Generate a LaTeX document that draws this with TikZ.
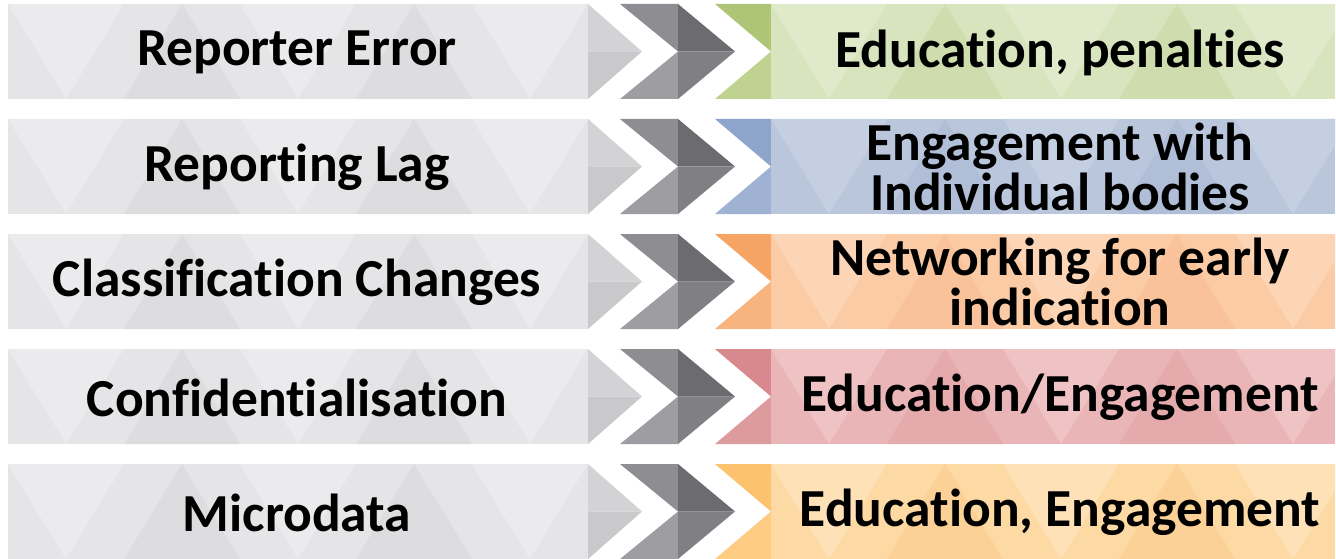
\documentclass[tikz,border=0pt]{standalone}
\usepackage{fontspec}
\setmainfont{Carlito}[Ligatures=NoCommon]
\definecolor{gbase}{HTML}{E5E5E7}
\definecolor{glight}{HTML}{EBEBED}
\definecolor{gdark}{HTML}{DDDDDF}
\definecolor{gtipA}{HTML}{D3D3D5}
\definecolor{gtipB}{HTML}{C9C9CB}
\definecolor{chTL}{HTML}{8E8E92}
\definecolor{chTR}{HTML}{6B6B70}
\definecolor{chBL}{HTML}{9E9EA2}
\definecolor{chBR}{HTML}{7F7F84}
% green
\definecolor{grA}{HTML}{AEC577}
\definecolor{grB}{HTML}{C0D28F}
\definecolor{grBase}{HTML}{D8E4BE}
\definecolor{grL}{HTML}{E0E9CA}
\definecolor{grD}{HTML}{CEDCAE}
% blue
\definecolor{blA}{HTML}{8DA4CB}
\definecolor{blB}{HTML}{9FB2D4}
\definecolor{blBase}{HTML}{BAC6DC}
\definecolor{blL}{HTML}{C5CFE2}
\definecolor{blD}{HTML}{B1BED7}
% orange
\definecolor{orA}{HTML}{F6A464}
\definecolor{orB}{HTML}{F8B47E}
\definecolor{orBase}{HTML}{FACBA4}
\definecolor{orL}{HTML}{FBD5B5}
\definecolor{orD}{HTML}{F9C29A}
% red
\definecolor{rdA}{HTML}{D8898D}
\definecolor{rdB}{HTML}{DE9B9D}
\definecolor{rdBase}{HTML}{EAB5B7}
\definecolor{rdL}{HTML}{EFC2C3}
\definecolor{rdD}{HTML}{E5AAAC}
% yellow
\definecolor{ylA}{HTML}{FCC26E}
\definecolor{ylB}{HTML}{FDCB82}
\definecolor{ylBase}{HTML}{FDD9A3}
\definecolor{ylL}{HTML}{FEE1B6}
\definecolor{ylD}{HTML}{FCD197}
\newcommand\rowdraw[6]{%
  \pgfmathsetmacro\rT{#1}%
  \pgfmathsetmacro\rB{#1+95}%
  \pgfmathsetmacro\rM{#1+47.5}%
  % left grey bar, faceted columns
  \foreach \i in {0,...,4}{%
    \pgfmathsetmacro\xa{8+116*\i}%
    \pgfmathsetmacro\xb{\xa+116}%
    \pgfmathsetmacro\xc{\xa+58}%
    \fill[gbase] (\xa,\rT) rectangle (\xb,\rB);
    \ifodd\i
      \fill[gdark] (\xa,\rB) -- (\xb,\rB) -- (\xc,\rT) -- cycle;
    \else
      \fill[glight] (\xa,\rT) -- (\xb,\rT) -- (\xc,\rB) -- cycle;
    \fi
  }%
  \fill[gtipA] (588,\rT) -- (642,\rM) -- (588,\rM) -- cycle;
  \fill[gtipB] (588,\rB) -- (642,\rM) -- (588,\rM) -- cycle;
  % dark chevron
  \fill[chTL] (620,\rT) -- (678,\rT) -- (678,\rM) -- cycle;
  \fill[chTR] (678,\rT) -- (735,\rM) -- (678,\rM) -- cycle;
  \fill[chBL] (620,\rB) -- (678,\rB) -- (678,\rM) -- cycle;
  \fill[chBR] (678,\rB) -- (735,\rM) -- (678,\rM) -- cycle;
  % coloured bar
  \fill[#2] (715,\rT) -- (771,\rT) -- (771,\rM) -- cycle;
  \fill[#3] (715,\rB) -- (771,\rB) -- (771,\rM) -- cycle;
  \foreach \i in {0,...,4}{%
    \pgfmathsetmacro\xa{771+116*\i}%
    \pgfmathsetmacro\xb{min(\xa+116,1335)}%
    \pgfmathsetmacro\xc{\xa+58}%
    \fill[#4] (\xa,\rT) rectangle (\xb,\rB);
    \begin{scope}
      \clip (\xa,\rT) rectangle (\xb,\rB);
      \ifodd\i
        \fill[#6] (\xa,\rB) -- (\xa+116,\rB) -- (\xc,\rT) -- cycle;
      \else
        \fill[#5] (\xa,\rT) -- (\xa+116,\rT) -- (\xc,\rB) -- cycle;
      \fi
    \end{scope}
  }%
}
\begin{document}
\begin{tikzpicture}[x=1pt,y=-1pt,
  lbl/.style={font=\bfseries\fontsize{53.5}{50}\selectfont, text=black, align=center, inner sep=0pt}]
\useasboundingbox (0,0) rectangle (1336,559);
\fill[white] (0,0) rectangle (1336,559);
\rowdraw{4}{grA}{grB}{grBase}{grL}{grD}
\rowdraw{119}{blA}{blB}{blBase}{blL}{blD}
\rowdraw{234}{orA}{orB}{orBase}{orL}{orD}
\rowdraw{349}{rdA}{rdB}{rdBase}{rdL}{rdD}
\rowdraw{464}{ylA}{ylB}{ylBase}{ylL}{ylD}
\node[lbl] (l1) at (297,52.5) {Reporter Error};
\node[lbl] (l2) at (297,167.5) {Reporting Lag};
\node[lbl] (l3) at (297,282.5) {Classification Changes};
\node[lbl] (l4) at (297,397.5) {Confidentialisation};
\node[lbl] (l5) at (297,512.5) {Microdata};
\node[lbl] (r1) at (1060,52.5) {Education, penalties};
\node[lbl] (r2) at (1060,166.5) {Engagement with\\Individual bodies};
\node[lbl] (r3) at (1060,281.5) {Networking for early\\indication};
\node[lbl] (r4) at (1060,397.5) {Education/Engagement};
\node[lbl] (r5) at (1060,512.5) {Education, Engagement};
\end{tikzpicture}
\end{document}
